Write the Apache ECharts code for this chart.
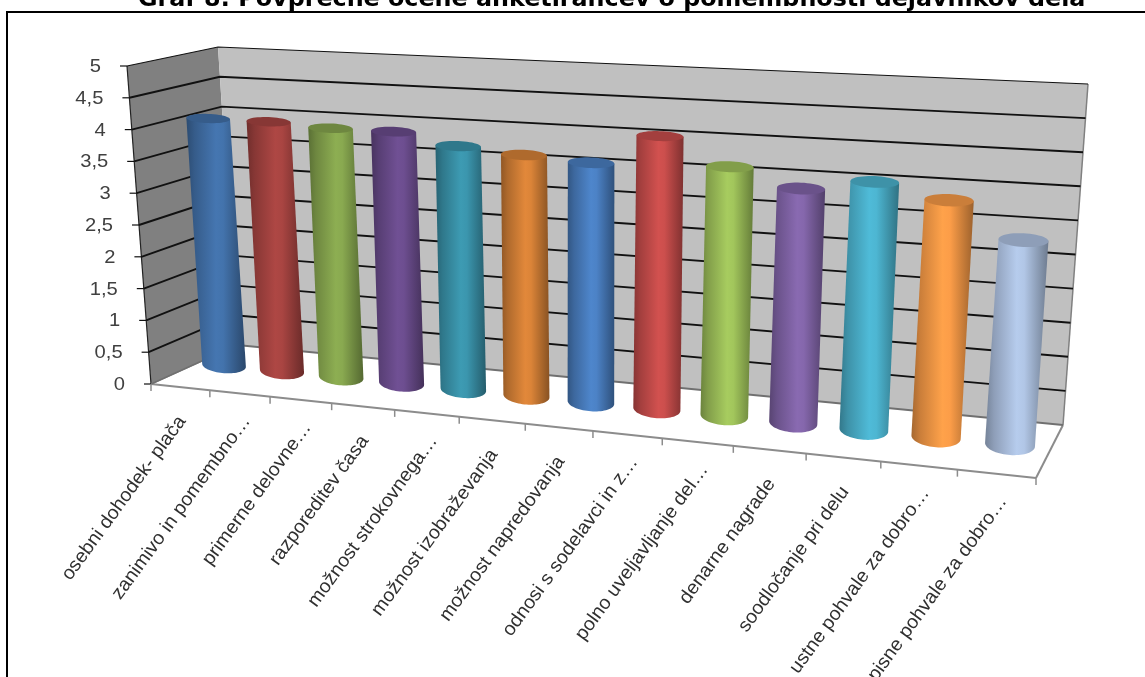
<!DOCTYPE html>
<html>
<head>
<meta charset="utf-8">
<title>Graf 8</title>
<script src="https://cdn.jsdelivr.net/npm/echarts@6/dist/echarts.min.js"></script>
<style>html,body{margin:0;padding:0;background:#fff;overflow:hidden}#c{width:1145px;height:677px}</style>
</head>
<body>
<div id="c"></div>
<script>
const titleText = 'Graf 8: Povprečne ocene anketirancev o pomembnosti dejavnikov dela';
const categories = [
  'osebni dohodek- plača', 'zanimivo in pomembno…', 'primerne delovne…', 'razporeditev časa',
  'možnost strokovnega…', 'možnost izobraževanja', 'možnost napredovanja', 'odnosi s sodelavci in z…',
  'polno uveljavljanje del…', 'denarne nagrade', 'soodločanje pri delu', 'ustne pohvale za dobro…',
  'pisne pohvale za dobro…'
];
const values = [4.0, 4.0, 3.95, 3.95, 3.78, 3.7, 3.64, 4.1, 3.7, 3.44, 3.6, 3.4, 2.9];
const barColors = ['#4373AC', '#A94542', '#89A950', '#6D4E90', '#3B96AE', '#DB8438',
  '#4C82C6', '#CC4F4D', '#A2C65C', '#8567AC', '#4DB6D2', '#FC9D48', '#B1C6E6'];
const yTicks = [0, 0.5, 1, 1.5, 2, 2.5, 3, 3.5, 4, 4.5, 5];

// Corners of the 3D plot box in screen space, [x, y, perspective weight].
// Index: u (left/right), v (floor/top), d (front/back).
const box = {
  '000': [151, 384, 1], '100': [1036, 478, 0.855],
  '010': [127, 66, 1], '110': [1062, 106, 0.855],
  '001': [237, 345, 1.067], '101': [1063, 425, 0.933],
  '011': [218, 47, 1.067], '111': [1088, 84, 0.933]
};
const barDepth = 0.53;
const barOffsetU = -0.0033;
const labelAngle = 54 * Math.PI / 180;

function project(u, v, d) {
  let sx = 0, sy = 0, sw = 0;
  for (const a of [0, 1]) for (const b of [0, 1]) for (const c of [0, 1]) {
    const k = box['' + a + b + c];
    const t = (a ? u : 1 - u) * (b ? v : 1 - v) * (c ? d : 1 - d) * k[2];
    sx += t * k[0]; sy += t * k[1]; sw += t;
  }
  const tw = (1 - u) * (1 - d) * box['000'][2] + u * (1 - d) * box['100'][2]
    + (1 - u) * d * box['001'][2] + u * d * box['101'][2];
  return { x: sx / sw, y: sy / sw, w: tw };
}

// Reads normalised box coordinates off the cartesian scales.
function boxCoord(params, api, cat, val) {
  const cs = params.coordSys;
  const p = api.coord([cat, val]);
  return { u: (p[0] - cs.x) / cs.width, v: (cs.y + cs.height - p[1]) / cs.height };
}

function pt(o) { return [o.x, o.y]; }

function shade(hex, f) {
  const n = parseInt(hex.slice(1), 16);
  const ch = [(n >> 16) & 255, (n >> 8) & 255, n & 255].map(c => Math.round(Math.min(255, c * f)));
  return 'rgb(' + ch.join(',') + ')';
}

function renderWalls() {
  const line = (a, b, stroke, lw) => ({
    type: 'line', shape: { x1: a.x, y1: a.y, x2: b.x, y2: b.y }, style: { stroke, lineWidth: lw, fill: null }
  });
  const c = (u, v, d) => project(u, v, d);
  return {
    type: 'group',
    children: [
      { type: 'polygon', shape: { points: [pt(c(0, 0, 0)), pt(c(0, 1, 0)), pt(c(0, 1, 1)), pt(c(0, 0, 1))] }, style: { fill: '#808080' } },
      { type: 'polygon', shape: { points: [pt(c(0, 0, 1)), pt(c(0, 1, 1)), pt(c(1, 1, 1)), pt(c(1, 0, 1))] }, style: { fill: '#c0c0c0' } },
      line(c(0, 0, 0), c(0, 1, 0), '#222', 1.2),
      line(c(1, 0, 1), c(1, 1, 1), '#808080', 1.5),
      line(c(0, 0, 0), c(1, 0, 0), '#8c8c8c', 2),
      line(c(1, 0, 0), c(1, 0, 1), '#8c8c8c', 2),
      line(c(0, 0, 0), c(0, 0, 1), '#8c8c8c', 1.5)
    ]
  };
}

function renderGridLine(params, api) {
  const t = api.value(0);
  const v = boxCoord(params, api, 0, t).v;
  const a = project(0, v, 0), b = project(0, v, 1), e = project(1, v, 1);
  const base = t === 0;
  const stroke = base ? '#707070' : '#111';
  const lw = t === 5 ? 1.2 : 1.9;
  return {
    type: 'group',
    children: [
      { type: 'polyline', shape: { points: [pt(a), pt(b), pt(e)] }, style: { stroke, lineWidth: lw, fill: null } },
      { type: 'line', shape: { x1: a.x - 7, y1: a.y, x2: a.x, y2: a.y }, style: { stroke: '#111', lineWidth: 1.2 } },
      {
        type: 'text', x: a.x - 26, y: a.y + 1, scaleX: 1.12, scaleY: 1,
        style: {
          text: String(t).replace('.', ','), align: 'right', verticalAlign: 'middle',
          font: '18px "Liberation Sans", Arial, sans-serif', fill: '#404040'
        }
      }
    ]
  };
}

function renderCategoryMarks(params, api) {
  const i = api.value(0);
  const c = boxCoord(params, api, i, 0);
  const halfBand = api.size([1, 0])[0] / params.coordSys.width / 2;
  const children = [];
  const tick = (u) => {
    const p = project(u, 0, 0);
    children.push({ type: 'line', shape: { x1: p.x, y1: p.y, x2: p.x, y2: p.y + 7 }, style: { stroke: '#8c8c8c', lineWidth: 1.5 } });
  };
  tick(c.u - halfBand);
  if (i === categories.length - 1) tick(c.u + halfBand);
  const f = project(c.u, 0, 0);
  // Shortened labels run a little closer to the floor edge.
  const reach = categories[i].endsWith('…') ? 8 : 0;
  children.push({
    type: 'text',
    x: f.x + 2 + reach * Math.cos(labelAngle), y: f.y + 31 - reach * Math.sin(labelAngle),
    rotation: labelAngle, scaleX: 1.035, scaleY: 1,
    style: {
      text: categories[i], align: 'right', verticalAlign: 'middle',
      font: '19px "Liberation Sans", Arial, sans-serif', fill: '#303030'
    }
  });
  return { type: 'group', children };
}

function ellipse(cx, cy, rx, ry, slope, from, to, n) {
  const out = [];
  for (let k = 0; k <= n; k++) {
    const a = from + (to - from) * k / n;
    const ex = rx * Math.cos(a), ey = ry * Math.sin(a);
    out.push([cx + ex, cy + ey + ex * slope]);
  }
  return out;
}

function renderCylinder(params, api) {
  const i = api.value(0), val = api.value(1);
  const b = boxCoord(params, api, i, 0), t = boxCoord(params, api, i, val);
  const u = b.u + barOffsetU;
  const color = barColors[i];
  const p0 = project(u, 0, barDepth), p1 = project(u, t.v, barDepth);
  const rx = 22.5 / p0.w;
  const slopeOf = v => {
    const a = project(u - 0.02, v, barDepth), c = project(u + 0.02, v, barDepth);
    return 0.7 * (c.y - a.y) / (c.x - a.x);
  };
  const ryOf = v => Math.abs(project(u, v, barDepth - 0.2).y - project(u, v, barDepth + 0.2).y) / 2;
  const bottomArc = ellipse(p0.x, p0.y, rx, ryOf(0), slopeOf(0), 0, Math.PI, 36);
  const topRing = ellipse(p1.x, p1.y, rx, ryOf(t.v), slopeOf(t.v), 0, Math.PI * 2, 48);
  const body = [[p1.x - rx, p1.y - rx * slopeOf(t.v)], [p1.x + rx, p1.y + rx * slopeOf(t.v)]].concat(bottomArc);
  return {
    type: 'group',
    children: [
      {
        type: 'polygon', shape: { points: body },
        style: {
          fill: new echarts.graphic.LinearGradient(0, 0, 1, 0, [
            { offset: 0, color: shade(color, 0.66) },
            { offset: 0.14, color: shade(color, 0.8) },
            { offset: 0.5, color: shade(color, 1.03) },
            { offset: 0.62, color: shade(color, 1) },
            { offset: 0.88, color: shade(color, 0.74) },
            { offset: 1, color: shade(color, 0.62) }
          ])
        }
      },
      { type: 'polygon', shape: { points: topRing }, style: { fill: shade(color, 0.8) } }
    ]
  };
}

const chart = echarts.init(document.getElementById('c'), null, { renderer: 'canvas' });
chart.setOption({
  animation: false,
  backgroundColor: '#ffffff',
  title: {
    text: titleText, left: 133, top: -17,
    textStyle: { fontFamily: '"DejaVu Sans", Verdana, sans-serif', fontWeight: 'bold', fontSize: 23.8, color: '#000' }
  },
  graphic: [{
    type: 'rect', z: -10, shape: { x: 7, y: 12, width: 1300, height: 900 },
    style: { fill: '#fff', stroke: '#000', lineWidth: 2 }
  }],
  grid: { left: 127, right: 60, top: 66, bottom: 200 },
  xAxis: { type: 'category', data: categories, show: false },
  yAxis: { type: 'value', min: 0, max: 5, interval: 0.5, show: false },
  series: [
    { type: 'custom', z: 1, silent: true, clip: false, data: [[0]], renderItem: renderWalls },
    { type: 'custom', z: 2, silent: true, clip: false, data: yTicks.map(t => [t]), encode: { y: 0 }, renderItem: renderGridLine },
    { type: 'custom', z: 3, silent: true, clip: false, data: categories.map((_, i) => [i]), encode: { x: 0 }, renderItem: renderCategoryMarks },
    { type: 'custom', z: 4, silent: true, clip: false, data: values.map((v, i) => [i, v]), encode: { x: 0, y: 1 }, renderItem: renderCylinder }
  ]
});
</script>
</body>
</html>
